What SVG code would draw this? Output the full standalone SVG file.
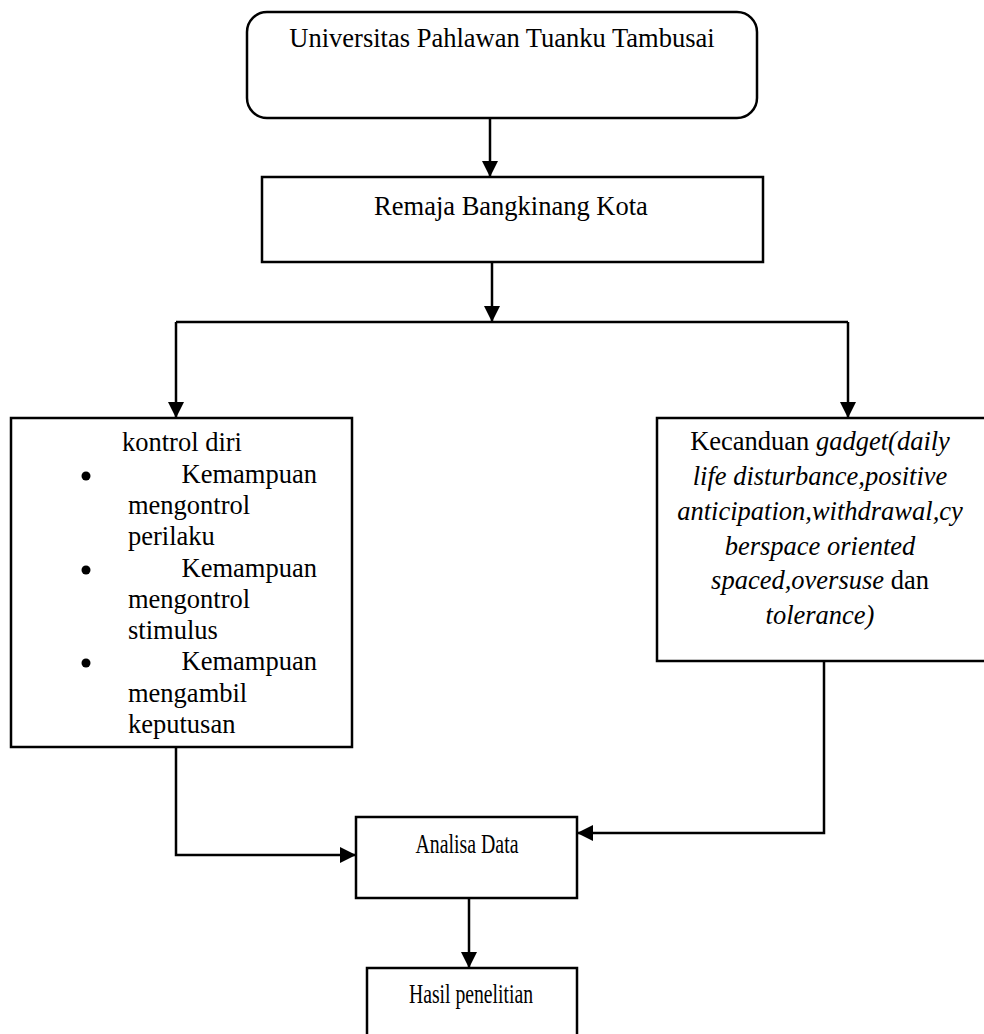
<svg xmlns="http://www.w3.org/2000/svg" width="984" height="1034" viewBox="0 0 984 1034">
  <style>
    .box { fill: #ffffff; stroke: #000000; stroke-width: 2.5; }
    .conn { fill: none; stroke: #000000; stroke-width: 2.5; }
    text { font-family: "Liberation Serif", "Times New Roman", serif; font-size: 26.5px; fill: #000000; }
    .c { text-anchor: middle; }
    .i { font-style: italic; }
  </style>
  <defs>
    <marker id="arrow" markerUnits="userSpaceOnUse" markerWidth="16" markerHeight="16" refX="16" refY="8" orient="auto">
      <path d="M0,0 L16,8 L0,16 z" fill="#000000"/>
    </marker>
  </defs>
  <rect width="984" height="1034" fill="#ffffff"/>

  <g id="connectors">
    <line class="conn" x1="490" y1="118" x2="490" y2="177" marker-end="url(#arrow)"/>
    <line class="conn" x1="492" y1="262" x2="492" y2="322" marker-end="url(#arrow)"/>
    <polyline class="conn" points="176,322 848,322"/>
    <line class="conn" x1="176" y1="322" x2="176" y2="418" marker-end="url(#arrow)"/>
    <line class="conn" x1="848" y1="322" x2="848" y2="418" marker-end="url(#arrow)"/>
    <polyline class="conn" points="176,747 176,855 356,855" marker-end="url(#arrow)"/>
    <polyline class="conn" points="824,661 824,833 577,833" marker-end="url(#arrow)"/>
    <line class="conn" x1="469" y1="898" x2="469" y2="968" marker-end="url(#arrow)"/>
  </g>

  <g id="node-universitas">
    <rect class="box" x="247" y="12" width="510" height="106" rx="20" ry="20"/>
    <text class="c" x="502" y="47">Universitas Pahlawan Tuanku Tambusai</text>
  </g>

  <g id="node-remaja">
    <rect class="box" x="262" y="177" width="501" height="85"/>
    <text class="c" x="511" y="215">Remaja Bangkinang Kota</text>
  </g>

  <g id="node-kontrol">
    <rect class="box" x="11" y="418" width="341" height="329"/>
    <text class="c" x="182" y="451">kontrol diri</text>
    <circle cx="86" cy="476" r="4.5" fill="#000000"/>
    <text x="317" y="483" text-anchor="end">Kemampuan</text>
    <text x="128" y="514">mengontrol</text>
    <text x="128" y="545">perilaku</text>
    <circle cx="86" cy="570" r="4.5" fill="#000000"/>
    <text x="317" y="577" text-anchor="end">Kemampuan</text>
    <text x="128" y="608">mengontrol</text>
    <text x="128" y="639">stimulus</text>
    <circle cx="86" cy="663" r="4.5" fill="#000000"/>
    <text x="317" y="670" text-anchor="end">Kemampuan</text>
    <text x="128" y="701.5">mengambil</text>
    <text x="128" y="733">keputusan</text>
  </g>

  <g id="node-kecanduan">
    <rect class="box" x="657" y="418" width="330" height="243"/>
    <text class="c" x="820" y="450">Kecanduan <tspan class="i">gadget(daily</tspan></text>
    <text class="c i" x="820" y="485">life disturbance,positive</text>
    <text class="c i" x="820" y="519.5">anticipation,withdrawal,cy</text>
    <text class="c i" x="820" y="554.5">berspace oriented</text>
    <text class="c" x="820" y="589"><tspan class="i">spaced,oversuse</tspan> dan</text>
    <text class="c i" x="820" y="624">tolerance)</text>
  </g>

  <g id="node-analisa">
    <rect class="box" x="356" y="817" width="221" height="81"/>
    <text class="c" x="467" y="853" font-size="29" textLength="103" lengthAdjust="spacingAndGlyphs">Analisa Data</text>
  </g>

  <g id="node-hasil">
    <rect class="box" x="367" y="968" width="210" height="80"/>
    <text class="c" x="471" y="1003" font-size="29" textLength="124" lengthAdjust="spacingAndGlyphs">Hasil penelitian</text>
  </g>
</svg>
